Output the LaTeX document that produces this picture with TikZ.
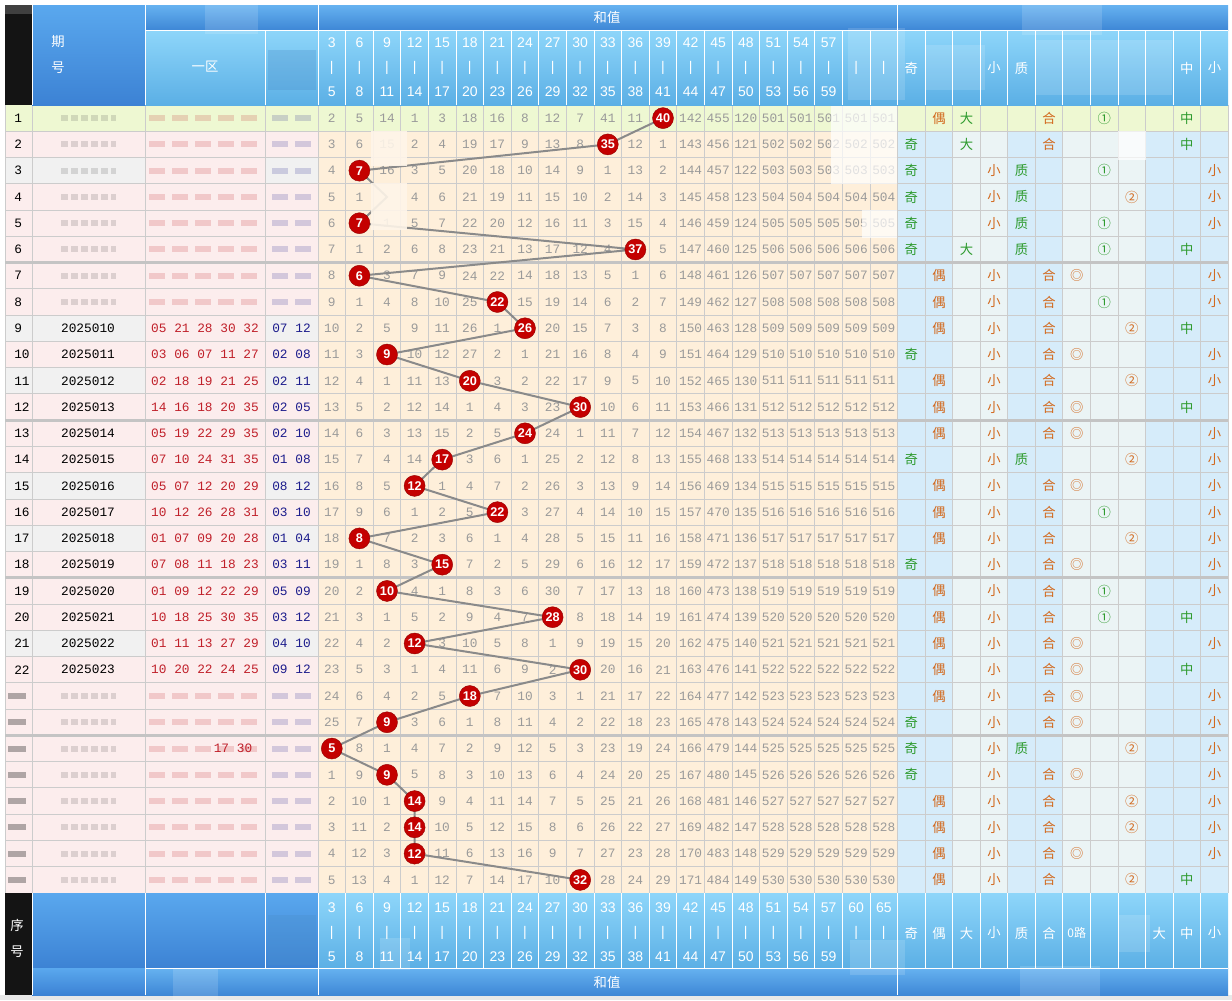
\documentclass[tikz,border=0pt]{standalone}
\usepackage{fontspec}
\setmainfont{Liberation Sans}
\newfontfamily\cjk{Noto Sans CJK SC}
\newfontfamily\mono{Liberation Mono}
\usetikzlibrary{calc}
\definecolor{rowy}{HTML}{EEF8D2}
\definecolor{pinkbg}{HTML}{FCEDED}
\definecolor{graybg}{HTML}{F1F1F1}
\definecolor{peach}{HTML}{FEEFDA}
\definecolor{blueA}{HTML}{D6ECFA}
\definecolor{blueB}{HTML}{EBF4F5}
\definecolor{gridc}{HTML}{CCCCCC}
\definecolor{sepc}{HTML}{C4C4C4}
\definecolor{ballred}{HTML}{C40000}
\definecolor{linegray}{HTML}{8A8A8A}
\definecolor{numgray}{HTML}{9A9A9A}
\definecolor{grn}{HTML}{2E9B2E}
\definecolor{org}{HTML}{D2691E}
\definecolor{redn}{HTML}{C0202A}
\definecolor{bluen}{HTML}{1C1C8C}
\definecolor{hbTop}{HTML}{66B2F0}
\definecolor{hbBot}{HTML}{3E87D6}
\definecolor{hsTop}{HTML}{8ED6FA}
\definecolor{hsBot}{HTML}{5BAFE5}
\definecolor{hmTop}{HTML}{5AA8EE}
\definecolor{hmBot}{HTML}{3C82D4}
\newcommand\mkch[1]{\ifcase#1 \textcolor{grn}{奇}\or \textcolor{org}{偶}\or \textcolor{grn}{大}\or \textcolor{org}{小}\or \textcolor{grn}{质}\or \textcolor{org}{合}\or \textcolor{org}{◎}\or \textcolor{grn}{①}\or \textcolor{org}{②}\or \textcolor{grn}{大}\or \textcolor{grn}{中}\or \textcolor{org}{小}\fi}
\def\balls{1/12/40,2/10/35,3/1/7,4/2/0,5/1/7,6/11/37,7/1/6,8/6/22,9/7/26,10/2/9,11/5/20,12/9/30,13/7/24,14/4/17,15/3/12,16/6/22,17/1/8,18/4/15,19/2/10,20/8/28,21/3/12,22/9/30,23/5/18,24/2/9,25/0/5,26/2/9,27/3/14,28/3/14,29/3/12,30/9/32}
\tikzset{
 hdr/.style={text=white, font=\fontsize{10.5}{12}\selectfont, inner sep=0pt},
 hdrc/.style={text=white, font=\cjk\fontsize{10}{12}\selectfont, inner sep=0pt},
 numtxt/.style={text=numgray, font=\mono\fontsize{9.6}{11}\selectfont, inner sep=0pt},
 qh/.style={text=black, font=\mono\fontsize{9.6}{11}\selectfont, inner sep=0pt},
 ball/.style={circle, fill=ballred, draw=ballred!75!black, line width=0.3pt, minimum size=15.75pt, inner sep=0pt, text=white, font=\bfseries\fontsize{9.5}{10}\selectfont},
 trend/.style={draw=linegray, line width=1.5pt},
 mkr/.style={font=\cjk\fontsize{10}{12}\selectfont, inner sep=0pt},
 blurw/.style={fill=white, fill opacity=0.7},
 blurp/.style={fill=peach!60!white, fill opacity=0.9},
 blurh/.style={fill=white, fill opacity=0.14},
 gridl/.style={draw=gridc, line width=0.75pt},
 wl/.style={draw=white, line width=0.75pt},
 smudge/.style={line width=4.5pt, opacity=0.18},
}
\begin{document}
\begin{tikzpicture}[x=0.75pt,y=-0.75pt]
\useasboundingbox (0,0) rectangle (1232,1000);
\fill[white] (0,0) rectangle (1232,1000);
\fill[black!9] (0,995) rectangle (1232,1000);
% ---------- body backgrounds
\fill[pinkbg] (5,105) rectangle (318,893);
\foreach \rr in {3,9,11,15,17,21}{
  \fill[graybg] (5,{105+(\rr-1)*26.267}) rectangle (145,{105+\rr*26.267});
  \fill[graybg] (265,{105+(\rr-1)*26.267}) rectangle (318,{105+\rr*26.267});
}
\fill[peach] (318,105) rectangle (897.6,893);
\foreach \k in {0,1,4,5,9,10,11} \fill[blueA] ({897.6+\k*27.55},105) rectangle ({897.6+(\k+1)*27.55},893);
\foreach \k in {2,3,6,7,8} \fill[blueB] ({897.6+\k*27.55},105) rectangle ({897.6+(\k+1)*27.55},893);
\fill[rowy] (5,105) rectangle (1228,131.27);
% ---------- grid
\foreach \rr in {1,...,29} \draw[gridl] (5,{105+\rr*26.267}) -- (1228,{105+\rr*26.267});
\foreach \xx in {5,32,145,265,318,1228} \draw[gridl] (\xx,105) -- (\xx,893);
\foreach \cc in {1,...,21} \draw[gridl] ({318+\cc*27.6},105) -- ({318+\cc*27.6},893);
\foreach \k in {1,...,11} \draw[gridl] ({897.6+\k*27.55},105) -- ({897.6+\k*27.55},893);
\foreach \rr in {6,12,18,24} \draw[draw=sepc, line width=2.25pt] (5,{105+\rr*26.267}) -- (1228,{105+\rr*26.267});
% ---------- left columns
\foreach \rr in {1,...,22} \node[qh, anchor=west] at (14,{105+(\rr-0.5)*26.267}) {\rr};
\foreach \rr/\ra/\rb in {9/05 21 28 30 32/07 12,10/03 06 07 11 27/02 08,11/02 18 19 21 25/02 11,12/14 16 18 20 35/02 05,13/05 19 22 29 35/02 10,14/07 10 24 31 35/01 08,15/05 07 12 20 29/08 12,16/10 12 26 28 31/03 10,17/01 07 09 20 28/01 04,18/07 08 11 18 23/03 11,19/01 09 12 22 29/05 09,20/10 18 25 30 35/03 12,21/01 11 13 27 29/04 10,22/10 20 22 24 25/09 12}{
  \edef\qn{\the\numexpr2025001+\rr\relax}
  \node[qh] at (88,{105+(\rr-0.5)*26.267}) {\qn};
  \node[qh, text=redn] at (205,{105+(\rr-0.5)*26.267}) {\ra};
  \node[qh, text=bluen] at (291.5,{105+(\rr-0.5)*26.267}) {\rb};
}
% blurred left rows
\foreach \rr in {1,...,8,23,24,...,30}{
  \pgfmathsetmacro\yc{105+(\rr-0.5)*26.267}
  \draw[smudge, black!70, dash pattern=on 5pt off 2.5pt] (61,\yc) -- (116,\yc);
  \draw[smudge, redn, dash pattern=on 12pt off 5.25pt] (149,\yc) -- (262,\yc);
  \draw[smudge, bluen, dash pattern=on 12pt off 5.25pt] (272,\yc) -- (312,\yc);
}
\foreach \rr in {23,...,30}{
  \pgfmathsetmacro\yc{105+(\rr-0.5)*26.267}
  \draw[smudge, black, opacity=0.3] (8,\yc) -- (26,\yc);
}
\node[qh, text=redn] at (233,{105+24.5*26.267}) {17 30};
% ---------- sum (和值) matrix
\foreach \v [count=\cc from 0] in {2,5,14,1,3,18,16,8,12,7,41,11,0,142,455,120,501,501,501,501,501}
  {\expandafter\xdef\csname hv\cc\endcsname{\v}}
\foreach \rr/\bc/\bv in \balls {
  \pgfmathsetmacro\yc{105+(\rr-0.5)*26.267}
  \coordinate (p\rr) at ({318+(\bc+0.5)*27.6},\yc);
  \foreach \cc in {0,...,20} {
    \ifnum\cc=\bc\relax
      \expandafter\xdef\csname hv\cc\endcsname{0}%
    \else
      \ifnum\rr>1\relax
        \edef\nv{\the\numexpr\csname hv\cc\endcsname+1\relax}%
        \expandafter\xdef\csname hv\cc\endcsname{\nv}%
      \fi
      \node[numtxt] at ({318+(\cc+0.5)*27.6},\yc) {\csname hv\cc\endcsname};
    \fi
  }
}
% trend line and balls
\draw[trend] (p1) \foreach \i in {2,...,30} { -- (p\i) };
\foreach \rr/\bc/\bv in \balls {
  \ifnum\rr=4\relax\else
    \node[ball] (ball\rr) at (p\rr) {\bv};
  \fi
}
% blur patches in matrix
\fill[blurp] (371,131) rectangle (407,166);
\fill[blurp] (371,183) rectangle (407,230);
\fill[blurw] (831,106) rectangle (897,184);
\fill[blurw] (862,210) rectangle (897,238);
% ---------- right markers
\foreach \rr/\pa/\sz/\qq/\mm/\tg in {1/1/2/5/7/10,2/0/2/5/9/10,3/0/3/4/7/11,4/0/3/4/8/11,5/0/3/4/7/11,6/0/2/4/7/10,7/1/3/5/6/11,8/1/3/5/7/11,9/1/3/5/8/10,10/0/3/5/6/11,11/1/3/5/8/11,12/1/3/5/6/10,13/1/3/5/6/11,14/0/3/4/8/11,15/1/3/5/6/11,16/1/3/5/7/11,17/1/3/5/8/11,18/0/3/5/6/11,19/1/3/5/7/11,20/1/3/5/7/10,21/1/3/5/6/11,22/1/3/5/6/10,23/1/3/5/6/11,24/0/3/5/6/11,25/0/3/4/8/11,26/0/3/5/6/11,27/1/3/5/8/11,28/1/3/5/8/11,29/1/3/5/6/11,30/1/3/5/8/10}{
  \pgfmathsetmacro\yc{105+(\rr-0.5)*26.267}
  \foreach \k in {\pa,\sz,\qq,\tg} \node[mkr] at ({897.6+(\k+0.5)*27.55},\yc) {\mkch{\k}};
  \ifnum\mm<9\relax \node[mkr] at ({897.6+(\mm+0.5)*27.55},\yc) {\mkch{\mm}};\fi
}
\fill[blurw] (1118,131) rectangle (1146,160);
% ---------- top header
\fill[black!92] (5,5) rectangle (32,105);
\fill[black!75] (5,5) rectangle (32,14);
\shade[top color=hmTop, bottom color=hmBot] (32,5) rectangle (145,105);
\shade[top color=hbTop, bottom color=hbBot] (145,5) rectangle (1228,30);
\shade[top color=hsTop, bottom color=hsBot] (145,30) rectangle (1228,105);
\fill[hmTop!85!black, opacity=0.3] (268,50) rectangle (316,90);
\draw[wl] (32,5) -- (32,105);
\draw[wl] (145,5) -- (145,105);
\draw[wl] (145,30) -- (1228,30);
\draw[wl] (265,30) -- (265,105);
\foreach \cc in {0,...,21} \draw[wl] ({318+\cc*27.6},30) -- ({318+\cc*27.6},105);
\draw[wl] (318,5) -- (318,30);
\draw[wl] (897.6,5) -- (897.6,30);
\foreach \k in {1,...,11} \draw[wl] ({897.6+\k*27.55},30) -- ({897.6+\k*27.55},105);
\node[hdrc] (qtop) at (58,42) {期};
\node[hdrc] (htop) at (58,68) {号};
\node[hdrc] (yq) at (205,67) {一区};
\node[hdrc] (hz) at (607,17) {和值};
\foreach \cc in {0,...,18}{
  \pgfmathtruncatemacro\lo{3+3*\cc}
  \pgfmathtruncatemacro\hi{5+3*\cc}
  \node[hdr] at ({318+(\cc+0.5)*27.6},43) {\lo};
  \node[hdr] at ({318+(\cc+0.5)*27.6},92) {\hi};
}
\foreach \cc in {0,...,20} \node[hdr] at ({318+(\cc+0.5)*27.6},68) {|};
\foreach \k/\t in {0/奇,3/小,4/质,10/中,11/小} \node[hdrc] at ({897.6+(\k+0.5)*27.55},68) {\t};
\fill[blurh] (205,5) rectangle (258,34);
\fill[blurh] (1022,5) rectangle (1102,35);
\fill[blurh] (848,28) rectangle (905,100);
\fill[blurh] (926,45) rectangle (985,90);
\fill[blurh] (1035,40) rectangle (1172,95);
% ---------- bottom header
\fill[black!92] (5,893) rectangle (32,995);
\shade[top color=hmTop, bottom color=hmBot] (32,893) rectangle (318,968);
\shade[top color=hmTop, bottom color=hmBot] (32,968) rectangle (145,995);
\shade[top color=hsTop, bottom color=hsBot] (318,893) rectangle (1228,968);
\shade[top color=hbTop, bottom color=hbBot] (145,968) rectangle (1228,995);
\fill[hmTop!85!black, opacity=0.3] (268,915) rectangle (316,965);
\draw[wl] (32,893) -- (32,995);
\draw[wl] (145,893) -- (145,995);
\draw[wl] (145,968) -- (1228,968);
\draw[wl] (265,893) -- (265,968);
\foreach \cc in {0,...,21} \draw[wl] ({318+\cc*27.6},893) -- ({318+\cc*27.6},968);
\draw[wl] (318,968) -- (318,995);
\draw[wl] (897.6,968) -- (897.6,995);
\foreach \k in {1,...,11} \draw[wl] ({897.6+\k*27.55},893) -- ({897.6+\k*27.55},968);
\node[hdrc] (xu) at (17,925) {序};
\node[hdrc] (hb) at (17,952) {号};
\node[hdrc] (hzb) at (607,982) {和值};
\foreach \cc in {0,...,18}{
  \pgfmathtruncatemacro\lo{3+3*\cc}
  \pgfmathtruncatemacro\hi{5+3*\cc}
  \node[hdr] at ({318+(\cc+0.5)*27.6},908) {\lo};
  \node[hdr] at ({318+(\cc+0.5)*27.6},957) {\hi};
}
\node[hdr] at ({318+19.5*27.6},908) {60};
\node[hdr] at ({318+20.5*27.6},908) {65};
\foreach \cc in {0,...,20} \node[hdr] at ({318+(\cc+0.5)*27.6},933) {|};
\foreach \k/\t in {0/奇,1/偶,2/大,3/小,4/质,5/合,9/大,10/中,11/小} \node[hdrc] at ({897.6+(\k+0.5)*27.55},933) {\t};
\node[hdr, font=\cjk\fontsize{9}{10}\selectfont] at ({897.6+6.5*27.55},933) {0路};
\fill[blurh] (380,938) rectangle (410,970);
\fill[blurh] (850,940) rectangle (905,975);
\fill[blurh] (1118,915) rectangle (1150,952);
\fill[blurh] (173,968) rectangle (218,1000);
\fill[blurh] (1020,966) rectangle (1100,1000);
\end{tikzpicture}
\end{document}
